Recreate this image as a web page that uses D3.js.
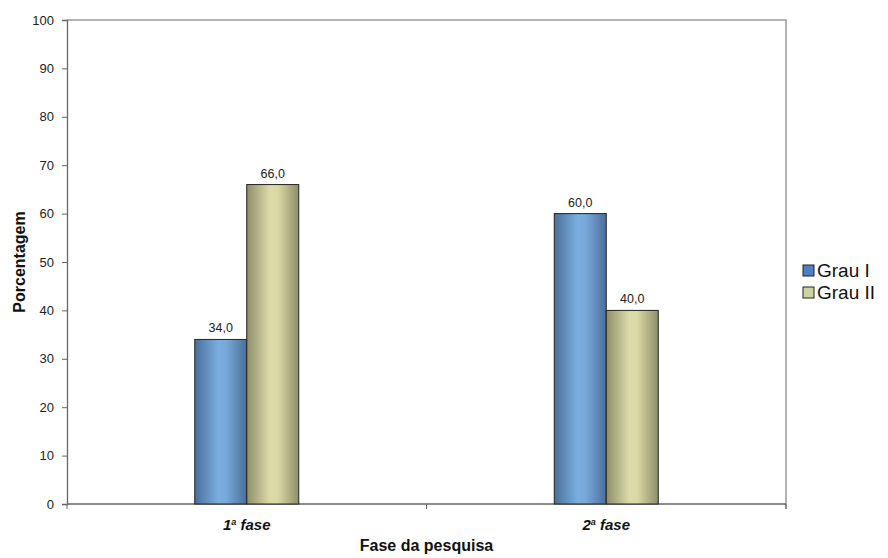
<!DOCTYPE html>
<html><head><meta charset="utf-8">
<script src="https://cdn.jsdelivr.net/npm/d3@7"></script>
<style>body{margin:0;background:#fff}svg{display:block}text{font-family:"Liberation Sans",Arial,sans-serif}</style>
</head><body>
<svg id="c" width="888" height="558"></svg>
<script>
const categories = ["1ª fase", "2ª fase"];
const seriesNames = ["Grau I", "Grau II"];
const grauI = [34.0, 60.0];
const grauII = [66.0, 40.0];
const yTicks = [0,10,20,30,40,50,60,70,80,90,100];

const svg = d3.select("#c");
const m = {l:67, r:786, t:20, b:504};
const x = d3.scaleBand().domain(categories).range([m.l, m.r]);
const y = d3.scaleLinear().domain([0,100]).range([m.b, m.t]);
const barW = 52;

const defs = svg.append("defs");
function grad(id, stops){
  const g = defs.append("linearGradient").attr("id", id).attr("x1","0").attr("x2","1").attr("y1","0").attr("y2","0");
  stops.forEach(([o,c])=>g.append("stop").attr("offset",o).attr("stop-color",c));
}
grad("gBlue", [[0,"#4a6f9a"],[0.45,"#7aaee0"],[0.6,"#78a9da"],[1,"#4a6f9a"]]);
grad("gKhaki", [[0,"#8e8e6a"],[0.45,"#dcdcaa"],[0.6,"#d8d8a4"],[1,"#8e8e6a"]]);

// frame (top + right)
svg.append("path").attr("d", `M${m.l},${m.t}H${m.r}V${m.b+5}`).attr("fill","none").attr("stroke","#999").attr("stroke-width",1.5);

// y axis
const yAxis = d3.axisLeft(y).tickValues(yTicks).tickSize(5).tickPadding(8).tickFormat(d3.format("d"));
const ya = svg.append("g").attr("transform",`translate(${m.l},0)`).call(yAxis);
ya.select(".domain").attr("stroke","#666").attr("stroke-width",1.3);
ya.selectAll(".tick line").attr("stroke","#666");
ya.selectAll("text").attr("font-size",13).attr("fill","#222");

// x axis
const xa = svg.append("g").attr("transform",`translate(0,${m.b})`);
xa.append("line").attr("x1",m.l).attr("x2",m.r).attr("stroke","#666").attr("stroke-width",1.3);
const xt = [m.l, ...categories.slice(1).map(c=>x(c)), m.r];
xa.selectAll(".xt").data(xt).join("line").attr("x1",d=>d).attr("x2",d=>d).attr("y1",0).attr("y2",5).attr("stroke","#666");
xa.selectAll(".xl").data(categories).join("text")
  .attr("x",d=>x(d)+x.bandwidth()/2).attr("y",26).attr("text-anchor","middle")
  .attr("font-size",15).attr("font-weight","bold").attr("font-style","italic").attr("fill","#111")
  .each(function(d){
    const t=d3.select(this); const parts=d.split("ª");
    t.append("tspan").text(parts[0]);
    t.append("tspan").text("a").attr("font-size",9).attr("dy",-5);
    t.append("tspan").text(parts[1]).attr("dy",5);
  });

// bars
const series = [{name:seriesNames[0], vals:grauI, fill:"url(#gBlue)", off:-barW},
                {name:seriesNames[1], vals:grauII, fill:"url(#gKhaki)", off:0}];
series.forEach(s=>{
  const g = svg.append("g");
  g.selectAll("rect").data(categories).join("rect")
    .attr("x",(c)=>x(c)+x.bandwidth()/2+s.off).attr("width",barW)
    .attr("y",(c,i)=>y(s.vals[i])).attr("height",(c,i)=>y(0)-y(s.vals[i]))
    .attr("fill",s.fill).attr("stroke","#222").attr("stroke-width",1);
  g.selectAll("text").data(categories).join("text")
    .attr("x",(c)=>x(c)+x.bandwidth()/2+s.off+barW/2).attr("y",(c,i)=>y(s.vals[i])-7)
    .attr("text-anchor","middle").attr("font-size",12.5).attr("fill","#222")
    .text((c,i)=>d3.format(".1f")(s.vals[i]).replace(".",","));
});

// axis titles
svg.append("text").attr("x",(m.l+m.r)/2).attr("y",551).attr("text-anchor","middle")
  .attr("font-size",16).attr("font-weight","bold").attr("fill","#111").text("Fase da pesquisa");
svg.append("text").attr("transform",`translate(25,${(m.t+m.b)/2}) rotate(-90)`).attr("text-anchor","middle")
  .attr("font-size",16).attr("font-weight","bold").attr("fill","#111").text("Porcentagem");

// legend
const lg = svg.append("g").attr("transform","translate(803,265)");
const lcol = ["#4f7fc4","#cfd3a0"];
seriesNames.forEach((n,i)=>{
  lg.append("rect").attr("x",0).attr("y",i*22).attr("width",11).attr("height",11).attr("fill",lcol[i]).attr("stroke","#222").attr("stroke-width",1);
  lg.append("text").attr("x",14).attr("y",i*22+12).attr("font-size",19).attr("fill","#111").text(n);
});
</script>
</body></html>
